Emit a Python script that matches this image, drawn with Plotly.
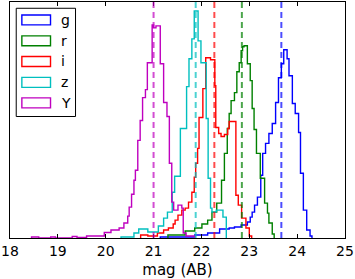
import plotly.graph_objects as go

# ---------------- data (histogram bin edges in mag, counts per bin) ----------------
bands = ["g", "r", "i", "z", "Y"]
colors = ["#0000ff", "#008000", "#ff0000", "#00bfbf", "#bf00bf"]

g_edges = [21.14, 21.86, 22.13, 22.38, 22.58, 22.69, 22.83, 22.96, 23.02, 23.06, 23.11, 23.17,
           23.24, 23.28, 23.34, 23.41, 23.48, 23.55, 23.61, 23.67, 23.72, 23.79, 23.83, 23.90,
           23.96, 24.03, 24.07, 24.13, 24.20, 24.27, 24.31]
g_counts = [1, 3, 5, 9, 10, 11, 13, 16, 21, 26, 33, 41, 63, 85, 95, 105, 115, 136, 161, 175,
            189, 180, 163, 135, 125, 106, 65, 28, 8, 2]

r_edges = [21.30, 21.66, 21.86, 22.01, 22.13, 22.22, 22.32, 22.42, 22.48, 22.54, 22.58, 22.62,
           22.69, 22.74, 22.79, 22.83, 22.86, 22.89, 22.96, 23.02, 23.06, 23.10, 23.15, 23.23,
           23.32, 23.38, 23.41, 23.48, 23.52]
r_counts = [3, 7, 10, 14, 18, 26, 35, 58, 85, 110, 125, 138, 146, 167, 176, 188, 192, 193, 175,
            158, 130, 109, 85, 60, 35, 25, 15, 4]

i_edges = [20.73, 20.88, 21.08, 21.21, 21.31, 21.41, 21.45, 21.51, 21.59, 21.66, 21.73, 21.80,
           21.85, 21.88, 21.92, 21.95, 22.03, 22.09, 22.19, 22.28, 22.30, 22.36, 22.41, 22.48,
           22.55, 22.58, 22.72, 22.77, 22.84, 22.93, 23.00, 23.05]
i_counts = [3, 2, 5, 8, 10, 14, 18, 23, 28, 30, 36, 46, 61, 75, 90, 121, 150, 181, 179, 153,
            111, 105, 102, 104, 110, 117, 43, 33, 20, 10, 2]

z_edges = [20.32, 20.59, 20.69, 20.88, 21.10, 21.21, 21.29, 21.39, 21.44, 21.56, 21.69, 21.74,
           21.80, 21.85, 21.93, 21.99, 22.10, 22.14, 22.19, 22.22, 22.31, 22.45, 22.52]
z_counts = [1, 5, 9, 6, 12, 20, 26, 46, 62, 110, 152, 180, 200, 228, 198, 176, 120, 60, 30, 26,
            28, 21]

Y_edges = [18.45, 18.60, 18.85, 18.95, 19.30, 19.40, 19.60, 19.85, 19.97, 20.11, 20.28, 20.38,
           20.46, 20.49, 20.54, 20.59, 20.62, 20.67, 20.72, 20.77, 20.83, 20.87, 20.97, 21.00,
           21.05, 21.14, 21.21, 21.28, 21.33, 21.38, 21.42, 21.51, 21.59, 21.62, 21.68, 21.86]
Y_counts = [1, 0, 1, 0, 1.5, 0.5, 2, 2, 5.5, 8, 10, 15, 22, 31, 44, 58, 68, 98, 118, 141, 149,
            176, 214, 211, 213, 175, 136, 122, 75, 36, 28, 33, 30, 5, 2]

medians = [23.67, 22.845, 22.27, 21.88, 21.00]

x_ticks = [18, 19, 20, 21, 22, 23, 24, 25]
x_label = "mag (AB)"

all_edges = [g_edges, r_edges, i_edges, z_edges, Y_edges]
all_counts = [g_counts, r_counts, i_counts, z_counts, Y_counts]

# ---------------- figure ----------------
W, H = 355, 279
ML, MR, MT, MB = 8, 8, 1, 41
PW, PH = W - ML - MR, H - MT - MB

fig = go.Figure()

def rgba(hexc, a):
    h = hexc.lstrip("#")
    return "rgba(%d,%d,%d,%.2f)" % (int(h[0:2], 16), int(h[2:4], 16), int(h[4:6], 16), a)

for name, col, edges, counts, med in zip(bands, colors, all_edges, all_counts, medians):
    xs = [edges[0]] + list(edges)
    ys = [0] + list(counts) + [0]
    fig.add_trace(go.Scatter(x=xs, y=ys, mode="lines", line=dict(color=col, width=1.4, shape="hv"),
                             name=name, showlegend=False, hoverinfo="skip"))
    fig.add_shape(type="line", xref="x", yref="paper", x0=med, x1=med, y0=0, y1=1,
                  line=dict(color=rgba(col, 0.7), width=2, dash="6px,4px"), layer="above")

# manual legend (matplotlib-style box with rectangle patches)
def px2x(px):
    return (px - ML) / PW

def py2y(py):
    return (MT + PH - py) / PH

fig.add_shape(type="rect", xref="paper", yref="paper",
              x0=px2x(14.3), x1=px2x(74.3), y0=py2y(116), y1=py2y(7.3),
              line=dict(color="black", width=1), fillcolor="white", layer="above")
centers = [19, 40, 60.7, 81.7, 102.3]
for name, col, cy in zip(bands, colors, centers):
    fig.add_shape(type="rect", xref="paper", yref="paper",
                  x0=px2x(20), x1=px2x(49), y0=py2y(cy + 5), y1=py2y(cy - 5),
                  line=dict(color=col, width=1.4), fillcolor="rgba(0,0,0,0)", layer="above")
    fig.add_annotation(xref="paper", yref="paper", x=px2x(58), y=py2y(cy), text=name,
                       showarrow=False, xanchor="left", yanchor="middle",
                       font=dict(family="DejaVu Sans", size=14, color="black"))

fig.update_layout(
    width=W, height=H,
    margin=dict(l=ML, r=MR, t=MT, b=MB, pad=0),
    paper_bgcolor="white", plot_bgcolor="white",
    font=dict(family="DejaVu Sans", color="black"),
    showlegend=False,
)
fig.update_xaxes(range=[17.9999, 25.0001], tickvals=x_ticks, ticktext=[str(t) for t in x_ticks],
                 ticks="inside", ticklen=4, tickwidth=1, tickcolor="black",
                 showline=True, linecolor="black", linewidth=1, mirror="ticks",
                 showgrid=False, zeroline=False, ticklabeloverflow="allow",
                 tickfont=dict(family="DejaVu Sans", size=14, color="black"),
                 title=dict(text=x_label, font=dict(family="DejaVu Sans", size=15, color="black"),
                            standoff=8))
fig.update_yaxes(range=[0, 237], showticklabels=False, ticks="",
                 showline=True, linecolor="black", linewidth=1, mirror=True,
                 showgrid=False, zeroline=False)

fig.write_html("out.html", config={"displayModeBar": False, "staticPlot": True},
               post_script="document.body.style.margin='0';document.body.style.overflow='hidden';")
